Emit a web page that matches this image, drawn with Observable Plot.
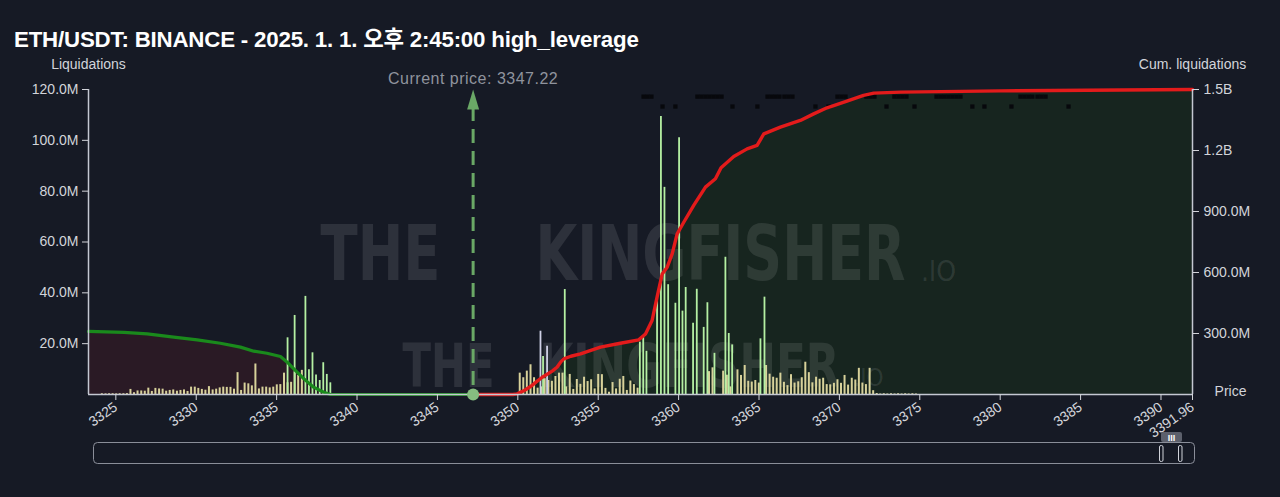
<!DOCTYPE html>
<html>
<head>
<meta charset="utf-8">
<script src="https://cdn.jsdelivr.net/npm/d3@7"></script>
<script src="https://cdn.jsdelivr.net/npm/@observablehq/plot@0.6"></script>
<style>
  html, body { margin: 0; padding: 0; background: #161a25; }
  body { width: 1280px; height: 497px; overflow: hidden; position: relative; font-family: "Liberation Sans", Arial, sans-serif; }
  #title { position: absolute; left: 14px; top: 27px; color: #ffffff; font-weight: bold; font-size: 22.3px;
           font-family: "Liberation Sans", "Noto Sans CJK KR", Arial, sans-serif; white-space: nowrap; letter-spacing: -0.2px; line-height: 25px; }
  #chart { position: absolute; left: 0; top: 0; }
  #slider { position: absolute; left: 0; top: 430px; }
</style>
</head>
<body>
<div id="chart"></div>
<div id="title">ETH/USDT: BINANCE - 2025. 1. 1. 오후 2:45:00 high_leverage</div>
<svg id="slider" width="1280" height="50">
  <rect x="93.5" y="12.5" width="1101" height="21" rx="4" fill="none" stroke="#8a8e99" stroke-width="1"/>
  <rect x="1159.5" y="15.5" width="3.5" height="16" rx="1.5" fill="#161a25" stroke="#d0d3da" stroke-width="1"/>
  <rect x="1178.5" y="15.5" width="3.5" height="16" rx="1.5" fill="#161a25" stroke="#d0d3da" stroke-width="1"/>
  <rect x="1161" y="2" width="21" height="10" rx="2" fill="#5c606c"/>
  <text x="1171.5" y="10.5" font-size="9" font-weight="bold" fill="#ffffff" text-anchor="middle" font-family="Liberation Sans, Arial">III</text>
</svg>
<script>
// ---------------- data (values in millions) ----------------
const currentPrice = 3347.22;
const xDomain = [3323.3, 3391.96];
const xTicks = [3325, 3330, 3335, 3340, 3345, 3350, 3355, 3360, 3365, 3370, 3375, 3380, 3385, 3390, 3391.96];
const leftTicks = [20, 40, 60, 80, 100, 120];
const rightTicks = [300, 600, 900, 1200, 1500];
const leftMax = 120;
const rightMax = 1500;

// small liquidation bars (khaki)
const khakiPrices = [
  3324.13, 3324.36, 3324.58, 3324.80, 3325.02, 3325.24, 3325.47, 3325.69,
  3325.91, 3326.13, 3326.35, 3326.58, 3326.80, 3327.02, 3327.24, 3327.46, 3327.69, 3327.91,
  3328.13, 3328.35, 3328.57, 3328.80, 3329.02, 3329.24, 3329.46, 3329.68, 3329.91, 3330.13,
  3330.35, 3330.57, 3330.79, 3331.02, 3331.24, 3331.46, 3331.68, 3331.90, 3332.13, 3332.35,
  3332.57, 3332.79, 3333.01, 3333.24, 3333.46, 3333.68, 3333.90, 3334.12, 3334.35, 3334.57,
  3334.79, 3335.01, 3335.23, 3335.46, 3335.68, 3335.90, 3336.12, 3336.34, 3336.57,
  3350.12, 3350.34, 3350.56, 3350.79, 3351.01, 3351.23, 3351.45, 3351.67, 3351.90, 3352.12,
  3352.34, 3352.56, 3352.78, 3353.01, 3353.23, 3353.45, 3353.67, 3353.89, 3354.12, 3354.34,
  3354.56, 3354.78, 3355.00, 3355.23, 3355.45, 3355.67, 3355.89, 3356.11, 3356.34, 3356.56,
  3356.78, 3357.00, 3357.22, 3357.45,
  3361.89, 3362.11, 3362.77, 3363.00, 3363.22, 3363.66, 3363.88, 3364.11, 3364.33, 3364.55,
  3364.77, 3364.99, 3365.44, 3365.66, 3365.88, 3366.10, 3366.33, 3366.55, 3366.77, 3366.99,
  3367.21, 3367.44, 3367.66, 3367.88, 3368.10, 3368.32, 3368.55, 3368.77, 3368.99, 3369.21,
  3369.43, 3369.66, 3369.88, 3370.10, 3370.32, 3370.54, 3370.77, 3370.99, 3371.21, 3371.43,
  3371.65, 3371.88, 3372.10, 3372.32,
  3372.54, 3372.76, 3372.98, 3373.21, 3373.43, 3373.65, 3373.87, 3374.09, 3374.31, 3374.54, 3374.76
];
const khakiValues = [
  0.3, 0.25, 0.3, 0.3, 0.25, 0.3, 0.3, 0.35,
  2.0, 0.7, 1.4, 1.4, 1.3, 2.5, 1.2, 2.4, 2.2, 2.1,
  1.3, 1.6, 1.8, 1.3, 1.6, 1.8, 1.2, 2.9, 2.9, 2.4,
  2.0, 1.7, 3.1, 1.8, 2.1, 2.6, 2.9, 2.8, 2.8, 2.1,
  8.6, 1.6, 4.5, 4.2, 3.4, 12.0, 2.2, 2.9, 2.9, 2.6,
  2.9, 3.8, 3.9, 8.4, 4.6, 4.8, 8.8, 7.5, 9.5,
  8.4, 6.6, 9.2, 11.7, 6.6, 2.5, 3.0, 6.2, 5.5, 5.2,
  7.1, 8.4, 8.4, 3.0, 7.9, 2.0, 5.9, 4.0, 6.8, 5.1,
  5.8, 2.2, 7.9, 7.8, 2.4, 0.9, 4.7, 2.2, 6.0, 7.1,
  1.6, 5.3, 3.9, 2.5,
  9.0, 10.5, 9.2, 7.6, 3.0, 9.7, 7.5, 11.4, 5.2, 4.9,
  5.5, 4.5, 11.4, 8.0, 6.8, 6.4, 8.4, 4.8, 3.5, 7.8,
  4.5, 5.0, 6.6, 12.7, 8.6, 4.6, 6.8, 6.0, 6.4, 3.9,
  3.8, 4.4, 5.8, 4.4, 7.5, 3.7, 6.4, 5.7, 10.3, 4.5,
  3.9, 10.3, 1.5, 0.4,
  0.2, 0.3, 0.2, 0.3, 0.2, 0.3, 0.2, 0.3, 0.2, 0.3, 0.2
];

// large liquidation bars (light green)
const greenPrices = [
  3335.68, 3336.12, 3336.79, 3337.01, 3337.23, 3337.45, 3337.68, 3337.90, 3338.12, 3338.34,
  3351.57, 3352.92, 3357.59, 3357.80, 3358.00, 3358.66, 3358.90, 3359.12, 3359.35, 3359.80,
  3360.03, 3360.24, 3360.44, 3360.90, 3361.13, 3361.56, 3361.79, 3362.23, 3362.91, 3363.12,
  3363.33, 3365.09, 3365.34
];
const greenValues = [
  22.3, 31.1, 38.6, 9.7, 16.4, 7.7, 5.5, 12.5, 7.9, 4.6,
  15.0, 41.3, 20.6, 22.5, 17.0, 37.8, 109.4, 81.5, 43.2, 35.9,
  101.0, 32.8, 42.1, 28.0, 41.4, 26.4, 36.1, 16.2, 54.0, 24.0,
  19.5, 21.9, 38.3
];
// pale bars
const palePrices = [3351.41, 3351.82];
const paleValues = [24.9, 19.0];

// cumulative short liquidations (left of price), millions
const shortCumPrices = [3323.30, 3325.50, 3326.95, 3328.60, 3330.06, 3331.50, 3332.75, 3333.58, 3334.40, 3335.24,
  3335.66, 3336.07, 3336.70, 3337.30, 3337.93, 3338.35, 3347.22];
const shortCumValues = [310, 306, 298, 282, 269, 252, 233, 213, 203, 187,
  159, 126, 77, 36, 11, 0, 0];

// cumulative long liquidations (right of price), millions
const longCumPrices = [3347.22, 3349.70, 3349.96, 3350.40, 3350.79, 3351.15, 3351.52, 3352.14, 3352.45, 3352.66,
  3352.86, 3353.30, 3353.90, 3355.14, 3356.38, 3357.52, 3357.94, 3358.35, 3358.66, 3358.98,
  3359.29, 3359.60, 3359.91, 3360.32, 3360.94, 3361.67, 3362.29, 3362.64, 3363.43, 3364.26,
  3364.88, 3365.30, 3366.33, 3367.57, 3368.40, 3369.23, 3370.47, 3371.50, 3372.14, 3373.80,
  3380.00, 3391.96];
const longCumValues = [0, 0, 3, 20, 39, 62, 85, 115, 135, 159,
  175, 188, 200, 233, 252, 269, 298, 364, 479, 593,
  626, 692, 790, 847, 930, 1020, 1061, 1115, 1171, 1208,
  1225, 1282, 1315, 1348, 1380, 1410, 1443, 1471, 1482, 1487,
  1493, 1500];

// dark markers at top
const markerRow1Prices = [3357.82, 3358.06, 3358.31, 3361.17, 3361.42, 3361.67, 3361.92, 3362.17, 3362.42, 3362.67,
  3365.53, 3365.78, 3366.02, 3366.27, 3366.58, 3366.83, 3367.08, 3369.88, 3370.13, 3370.38,
  3371.68, 3371.93, 3372.18, 3373.42, 3373.67, 3373.92, 3374.17, 3376.04, 3376.29, 3376.53,
  3376.78, 3377.03, 3377.28, 3377.53, 3381.26, 3381.51, 3381.76, 3382.00, 3382.32, 3382.57, 3382.82];
const markerRow2Prices = [3359.0, 3359.8, 3363.35, 3364.9, 3368.51, 3369.32, 3372.93, 3374.67, 3378.27, 3379.02, 3380.7, 3384.25];
const markerLevels = [117.2, 113.3];

// ---------------- tables ----------------
const ratio = rightMax / leftMax;
const khaki = khakiPrices.map((p, i) => ({price: p, value: khakiValues[i]}));
const green = greenPrices.map((p, i) => ({price: p, value: greenValues[i]}));
const pale = palePrices.map((p, i) => ({price: p, value: paleValues[i]}));
const shortCum = shortCumPrices.map((p, i) => ({price: p, cum: shortCumValues[i]}));
const longCum = longCumPrices.map((p, i) => ({price: p, cum: longCumValues[i]}));
const markers = [
  ...markerRow1Prices.map(p => ({price: p, level: markerLevels[0]})),
  ...markerRow2Prices.map(p => ({price: p, level: markerLevels[1]}))
];

const fmtLeft = d => d.toFixed(1) + "M";
const fmtRight = d => { const v = d * ratio; return v >= 1000 ? (v / 1000).toFixed(1) + "B" : v.toFixed(1) + "M"; };

const arrowHead = { draw(ctx) { ctx.moveTo(0, 0); ctx.lineTo(6, 20); ctx.lineTo(-6, 20); ctx.closePath(); } };

const wm = {fill: "#ffffff", fillOpacity: 0.1, fontWeight: "bold",
  fontFamily: "Liberation Sans Narrow, DejaVu Sans Condensed, Liberation Sans, sans-serif", lineAnchor: "middle", frameAnchor: "middle"};

const chart = Plot.plot({
  width: 1280,
  height: 440,
  marginTop: 89,
  marginBottom: 46,
  marginLeft: 88,
  marginRight: 88,
  style: {background: "transparent", color: "#d2d4da", fontSize: "14px", fontFamily: "Liberation Sans, Arial, sans-serif", overflow: "visible"},
  x: {domain: xDomain},
  y: {domain: [0, leftMax]},
  marks: [
    Plot.areaY(shortCum, {x: "price", y: d => d.cum / ratio, fill: "#2a1a25"}),
    Plot.areaY(longCum, {x: "price", y: d => d.cum / ratio, fill: "#17251f"}),
    // watermarks
    Plot.text(["THE"], {...wm, text: d => d, dx: -260, dy: 14, fontSize: 76, ariaDescription: "wm-the"}),
    Plot.text(["KINGFISHER"], {...wm, text: d => d, dx: 80, dy: 14, fontSize: 76, ariaDescription: "wm-kf"}),
    Plot.text([".IO"], {...wm, fontWeight: "normal", text: d => d, dx: 298, dy: 30, fontSize: 28}),
    Plot.text(["THE"], {...wm, text: d => d, dx: -192, dy: 126, fontSize: 60, ariaDescription: "wm-the2"}),
    Plot.text(["KINGFISHER"], {...wm, text: d => d, dx: 49, dy: 126, fontSize: 60, ariaDescription: "wm-kf2"}),
    Plot.text([".IO"], {...wm, fontWeight: "normal", text: d => d, dx: 228, dy: 136, fontSize: 24}),
    // bars
    Plot.ruleX(khaki, {x: "price", y1: 0, y2: "value", stroke: "#d7d19a", strokeWidth: 2}),
    Plot.ruleX(green, {x: "price", y1: 0, y2: "value", stroke: "#b5f0a3", strokeWidth: 1.8}),
    Plot.ruleX(pale, {x: "price", y1: 0, y2: "value", stroke: "#cfd0e6", strokeWidth: 1.8}),
    // markers
    Plot.dot(markers, {x: "price", y: "level", symbol: "square", r: 2.4, fill: "#07080c"}),
    // cumulative lines
    Plot.line(shortCum, {x: "price", y: d => d.cum / ratio, stroke: "#1a8a1c", strokeWidth: 3.2}),
    Plot.line(longCum, {x: "price", y: d => d.cum / ratio, stroke: "#e31b1b", strokeWidth: 3.4}),
    // axis lines
    Plot.ruleY([0], {stroke: "#c4c8d2", strokeWidth: 1.5}),
    Plot.ruleX([xDomain[0], xDomain[1]], {stroke: "#c4c8d2", strokeWidth: 1.5}),
    // current price
    Plot.ruleX([currentPrice], {x: d => d, stroke: "#6aa866", strokeWidth: 3, strokeDasharray: "14,8", insetTop: 18}),
    Plot.dot([currentPrice], {x: d => d, frameAnchor: "top", symbol: arrowHead, fill: "#6aa866"}),
    Plot.dot([currentPrice], {x: d => d, frameAnchor: "bottom", r: 6, fill: "#86bd80"}),
    Plot.text([currentPrice], {x: d => d, frameAnchor: "top", dy: -17, text: d => `Current price: ${d}`, fill: "#8f939d", fontSize: 16}),
    // axes
    Plot.axisY({anchor: "left", ticks: leftTicks, tickFormat: fmtLeft, tickSize: 6, tickPadding: 4, label: null}),
    Plot.axisY({anchor: "right", ticks: rightTicks.map(v => v / ratio), tickFormat: fmtRight, tickSize: 6, tickPadding: 5, label: null}),
    Plot.axisX({ticks: xTicks, tickFormat: d => String(d), tickRotate: -35, tickSize: 6, tickPadding: 5, label: null}),
    Plot.text(["Liquidations"], {frameAnchor: "top-left", text: d => d, dy: -30, textAnchor: "middle", fill: "#d2d4da", fontSize: 14}),
    Plot.text(["Cum. liquidations"], {frameAnchor: "top-right", text: d => d, dy: -30, textAnchor: "middle", fill: "#d2d4da", fontSize: 14}),
    Plot.text(["Price"], {frameAnchor: "bottom-right", text: d => d, dx: 38, dy: 1, textAnchor: "middle", fill: "#d2d4da", fontSize: 14})
  ]
});
document.getElementById("chart").appendChild(chart);

// fit watermark words to their widths by scaling horizontally around their anchor
const fit = (label, len) => d3.select(chart).selectAll(`g[aria-description="${label}"] text`).each(function() {
  const w = this.getComputedTextLength();
  if (w > 0) this.setAttribute("transform", (this.getAttribute("transform") || "") + ` scale(${len / w},1)`);
});
fit("wm-the", 120); fit("wm-kf", 370); fit("wm-the2", 92); fit("wm-kf2", 300);
// letter spacing for current price label
d3.select(chart).selectAll("text").filter(function() { return this.textContent.startsWith("Current price"); }).style("letter-spacing", "0.5px");
</script>
</body>
</html>
